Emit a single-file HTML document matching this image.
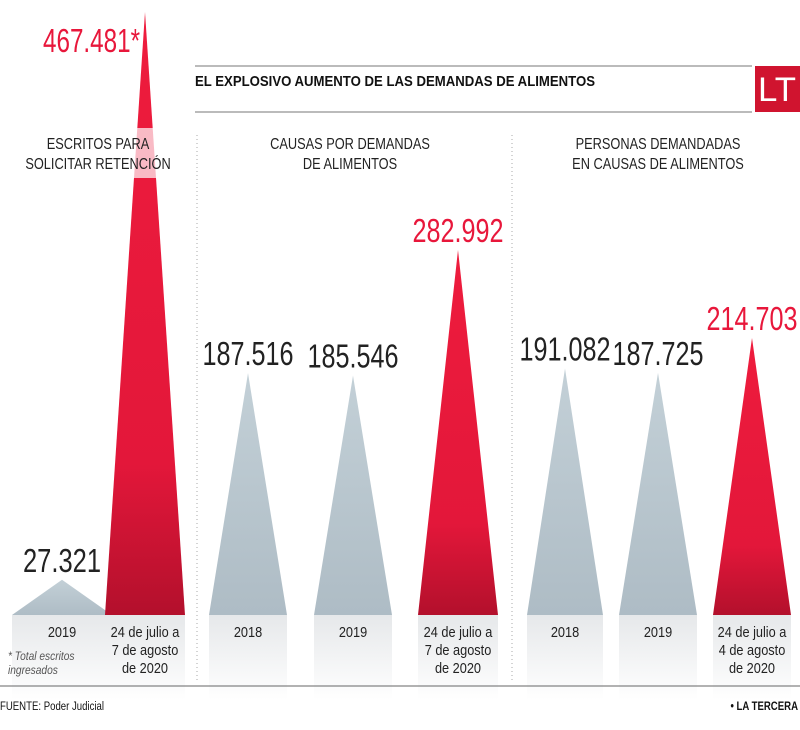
<!DOCTYPE html>
<html><head><meta charset="utf-8">
<style>
body{margin:0;background:#fff;}
svg text{font-family:"Liberation Sans",sans-serif;}
</style></head>
<body>
<svg id="chart" width="800" height="725" viewBox="0 0 800 725" xmlns="http://www.w3.org/2000/svg">
<defs>
<linearGradient id="redg" x1="0" y1="0" x2="0" y2="1">
<stop offset="0" stop-color="#ee1c3d"/><stop offset="0.75" stop-color="#e3173a"/><stop offset="1" stop-color="#b3102c"/>
</linearGradient>
<linearGradient id="grayg" x1="0" y1="0" x2="0" y2="1">
<stop offset="0" stop-color="#c3d0d7"/><stop offset="1" stop-color="#aebcc5"/>
</linearGradient>
<linearGradient id="refl" x1="0" y1="0" x2="0" y2="1">
<stop offset="0" stop-color="#e6e8ea"/><stop offset="1" stop-color="#ffffff"/>
</linearGradient>
</defs>
<g id="header">
<line x1="195" y1="66" x2="752" y2="66" stroke="#777" stroke-width="1"/>
<line x1="195" y1="112" x2="752" y2="112" stroke="#777" stroke-width="1"/>
<text x="195" y="86" font-size="15" font-weight="bold" fill="#111" textLength="400" lengthAdjust="spacingAndGlyphs">EL EXPLOSIVO AUMENTO DE LAS DEMANDAS DE ALIMENTOS</text>
<rect x="755" y="66" width="45" height="46" fill="#d0142f"/>
<text x="758" y="101" font-size="34" fill="#fff" textLength="38" lengthAdjust="spacingAndGlyphs">LT</text>
</g>
<line x1="197" y1="135" x2="197" y2="680" stroke="#aaa" stroke-dasharray="1,3"/>
<line x1="512" y1="135" x2="512" y2="680" stroke="#aaa" stroke-dasharray="1,3"/>
<g id="marks"></g>
<rect x="100" y="128" width="90" height="50" fill="#fff" opacity="0.7"/>
<g id="subtitles" font-size="16" fill="#222" text-anchor="middle">
<text transform="translate(98,149) scale(0.8,1)">ESCRITOS PARA</text>
<text transform="translate(98,169) scale(0.8,1)">SOLICITAR RETENCIÓN</text>
<text transform="translate(350,149) scale(0.8,1)">CAUSAS POR DEMANDAS</text>
<text transform="translate(350,169) scale(0.8,1)">DE ALIMENTOS</text>
<text transform="translate(658,149) scale(0.8,1)">PERSONAS DEMANDADAS</text>
<text transform="translate(658,169) scale(0.8,1)">EN CAUSAS DE ALIMENTOS</text>
</g>
<text transform="translate(8,660) scale(0.85,1)" font-size="12" font-style="italic" fill="#555">* Total escritos</text>
<text transform="translate(8,674) scale(0.85,1)" font-size="12" font-style="italic" fill="#555">ingresados</text>
<line x1="0" y1="686" x2="800" y2="686" stroke="#666"/>
<text transform="translate(0,710) scale(0.8,1)" font-size="12" fill="#111">FUENTE: Poder Judicial</text>
<text transform="translate(798,710) scale(0.8,1)" font-size="12" font-weight="bold" fill="#111" text-anchor="end">• LA TERCERA</text>
</svg>
<script>
const categories = ["2019","2020","2018","2019","2020","2018","2019","2020"];
const values = [27321, 467481, 187516, 185546, 282992, 191082, 187725, 214703];
const valueLabels = ["27.321","467.481*","187.516","185.546","282.992","191.082","187.725","214.703"];
const highlight = [false,true,false,false,true,false,false,true];
const catLabels = [["2019"],["24 de julio a","7 de agosto","de 2020"],["2018"],["2019"],["24 de julio a","7 de agosto","de 2020"],["2018"],["2019"],["24 de julio a","4 de agosto","de 2020"]];

const centers = [62,145,248,353,458,565,658,752];
const halfW = [50,40,39,39,40,38,39,39];
const baseY = 615;
const scale = 603/467481;
function yOf(v){ return baseY - v*scale; }
const NS = "http://www.w3.org/2000/svg";
const g = document.getElementById('marks');
for(let i=0;i<values.length;i++){
  const cx = centers[i], hw = halfW[i], top = yOf(values[i]);
  const r = document.createElementNS(NS,'rect');
  
  
  r.setAttribute('x',cx-hw); r.setAttribute('y',baseY); r.setAttribute('width',2*hw); r.setAttribute('height',85);
  r.setAttribute('fill','url(#refl)');
  g.appendChild(r);
  const p = document.createElementNS(NS,'polygon');
  
  
  p.setAttribute('points',(cx-hw)+','+baseY+' '+cx+','+top+' '+(cx+hw)+','+baseY);
  p.setAttribute('fill',highlight[i]?'url(#redg)':'url(#grayg)');
  g.appendChild(p);
  const t = document.createElementNS(NS,'text');
  
  
  const label = valueLabels[i];
  const w = label.replace('*','').length*13 + (label.includes('*')?6:0);
  let tx = cx - w/2, ty = top - 8;
  if (ty < 45) { tx = cx - 5 - w; ty = 52; }
  t.setAttribute('x',tx); t.setAttribute('y',ty);
  t.setAttribute('textLength',w); t.setAttribute('lengthAdjust','spacingAndGlyphs');
  t.setAttribute('font-size','33');
  t.setAttribute('fill',highlight[i]?'#e8173b':'#222');
  t.textContent = label;
  g.appendChild(t);
  catLabels[i].forEach((s,j)=>{
    const c = document.createElementNS(NS,'text');
    
    
    c.setAttribute('transform','translate('+cx+','+(637+j*18)+') scale(0.85,1)');
    c.setAttribute('text-anchor','middle'); c.setAttribute('font-size','15'); c.setAttribute('fill','#222');
    c.textContent = s;
    g.appendChild(c);
  });
}
</script>
</body></html>
